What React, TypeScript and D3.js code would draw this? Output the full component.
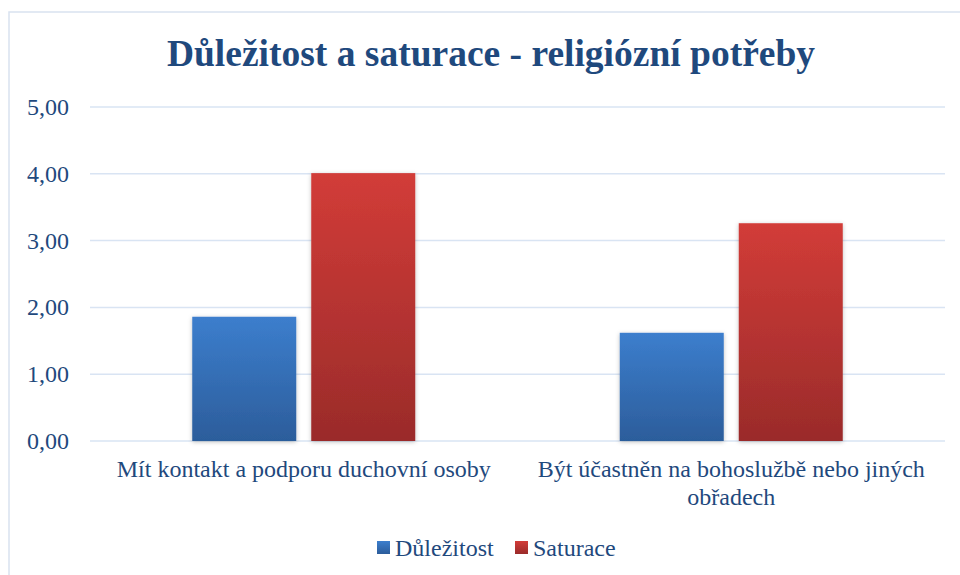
import React from "react";
import * as d3 from "d3";

const categories: string[][] = [
  ["Mít kontakt a podporu duchovní osoby"],
  ["Být účastněn na bohoslužbě nebo jiných", "obřadech"],
];
const seriesNames = ["Důležitost", "Saturace"];
const dulezitost = [1.86, 1.62];
const saturace = [4.01, 3.26];
const yTicks = [0, 1, 2, 3, 4, 5];

const W = 960;
const H = 575;
const margin = { left: 90, right: 15, top: 107, bottom: 134 };
const textColor = "#1F497D";
const font = "Liberation Serif";

export default function App() {
  const x0 = d3
    .scaleBand<number>()
    .domain(categories.map((_, i) => i))
    .range([margin.left, W - margin.right]);
  const y = d3.scaleLinear().domain([0, 5]).range([H - margin.bottom, margin.top]);
  const barW = 104;
  const gap = 15;
  const series = [dulezitost, saturace];
  const grads = ["gBlue", "gRed"];
  const legendColors = ["url(#gBlue)", "url(#gRed)"];
  const ts = { fontFamily: font };

  return (
    <svg
      width={W}
      height={H}
      style={{ position: "absolute", left: 0, top: 0, background: "#fff" }}
    >
      <defs>
        <linearGradient id="gBlue" x1="0" y1="0" x2="0" y2="1">
          <stop offset="0" stopColor="#3C7ECD" />
          <stop offset="1" stopColor="#2C5D9B" />
        </linearGradient>
        <linearGradient id="gRed" x1="0" y1="0" x2="0" y2="1">
          <stop offset="0" stopColor="#D23C38" />
          <stop offset="1" stopColor="#9A2B2A" />
        </linearGradient>
        <filter id="shadow" x="-20%" y="-10%" width="140%" height="120%">
          <feDropShadow dx="0" dy="1" stdDeviation="2" floodColor="#000" floodOpacity="0.25" />
        </filter>
      </defs>
      <rect x={9} y={12} width={960} height={600} fill="#fff" stroke="#D9E2F0" strokeWidth={1.5} />
      <text
        x={491}
        y={66}
        textAnchor="middle"
        fontSize={37.5}
        fontWeight="bold"
        fill={textColor}
        style={ts}
      >
        Důležitost a saturace - religiózní potřeby
      </text>
      {yTicks.map((t) => (
        <g key={t}>
          <line
            x1={margin.left}
            x2={W - margin.right}
            y1={y(t)}
            y2={y(t)}
            stroke="#D9E4F3"
            strokeWidth={1.5}
          />
          <text
            x={69}
            y={y(t) + 8}
            textAnchor="end"
            fontSize={24}
            fill={textColor}
            style={ts}
          >
            {d3.format(".2f")(t).replace(".", ",")}
          </text>
        </g>
      ))}
      {categories.map((_, ci) => {
        const cx = x0(ci)! + x0.bandwidth() / 2;
        return series.map((s, si) => {
          const bx = cx - gap / 2 - barW + si * (barW + gap);
          return (
            <rect
              key={`${ci}-${si}`}
              x={bx}
              y={y(s[ci])}
              width={barW}
              height={y(0) - y(s[ci])}
              fill={`url(#${grads[si]})`}
              filter="url(#shadow)"
            />
          );
        });
      })}
      {categories.map((lines, ci) => {
        const cx = x0(ci)! + x0.bandwidth() / 2;
        return (
          <text key={ci} textAnchor="middle" fontSize={24} fill={textColor} style={ts}>
            {lines.map((l, li) => (
              <tspan key={li} x={cx} y={477 + li * 28}>
                {l}
              </tspan>
            ))}
          </text>
        );
      })}
      {seriesNames.map((n, i) => {
        const lx = [377, 515][i];
        return (
          <g key={n}>
            <rect x={lx} y={541} width={13} height={13} fill={legendColors[i]} />
            <text x={lx + 18} y={556} fontSize={24} fill={textColor} style={ts}>
              {n}
            </text>
          </g>
        );
      })}
    </svg>
  );
}
